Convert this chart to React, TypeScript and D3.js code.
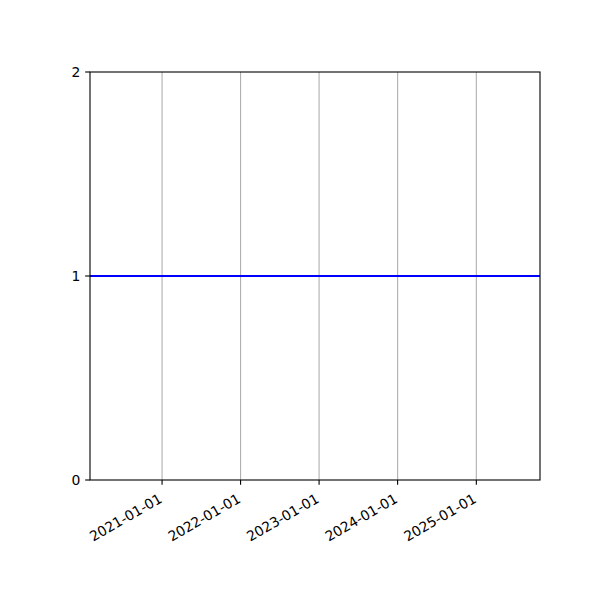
import { scaleLinear, scaleUtc, line } from 'd3';

// data
const dates = ['2020-02-01', '2025-10-24'];
const values = [1, 1];
const xTickLabels = ['2021-01-01', '2022-01-01', '2023-01-01', '2024-01-01', '2025-01-01'];
const yTicks = [0, 1, 2];

const WIDTH = 600;
const HEIGHT = 600;
const MARGIN = { top: 72, right: 60, bottom: 120, left: 90 };
const TICK = 4.86;
const FONT = 'DejaVu Sans, sans-serif';
const FONT_SIZE = 13.9;

export default function App() {
  const points = dates.map((d, i) => ({ date: new Date(d + 'T00:00:00Z'), value: values[i] }));

  const x = scaleUtc()
    .domain([points[0].date, points[points.length - 1].date])
    .range([MARGIN.left, WIDTH - MARGIN.right]);
  const y = scaleLinear()
    .domain([0, 2])
    .range([HEIGHT - MARGIN.bottom, MARGIN.top]);

  const path = line<{ date: Date; value: number }>()
    .x(d => x(d.date))
    .y(d => y(d.value))(points);

  const xTicks = xTickLabels.map(label => ({ label, xOffset: x(new Date(label + 'T00:00:00Z')) }));
  const bottom = HEIGHT - MARGIN.bottom;

  return (
    <svg
      width={WIDTH}
      height={HEIGHT}
      style={{ position: 'absolute', left: 0, top: 0, background: '#fff' }}
      fontFamily={FONT}
      fontSize={FONT_SIZE}
    >
      {/* vertical grid */}
      {xTicks.map(({ label, xOffset }) => (
        <line key={'g' + label} x1={xOffset} x2={xOffset} y1={MARGIN.top} y2={bottom} stroke="#b0b0b0" strokeWidth={1.1} />
      ))}

      {path && <path d={path} fill="none" stroke="#0000ff" strokeWidth={2.1} />}

      {/* frame */}
      <rect
        x={MARGIN.left}
        y={MARGIN.top}
        width={WIDTH - MARGIN.left - MARGIN.right}
        height={bottom - MARGIN.top}
        fill="none"
        stroke="#000"
        strokeWidth={1.1}
      />

      {/* x axis */}
      {xTicks.map(({ label, xOffset }) => (
        <g key={label}>
          <line x1={xOffset} x2={xOffset} y1={bottom} y2={bottom + TICK} stroke="#000" strokeWidth={1.1} />
          <text
            textAnchor="end"
            transform={`translate(${xOffset + 1}, ${bottom + 21.5}) rotate(-30)`}
          >
            {label}
          </text>
        </g>
      ))}

      {/* y axis */}
      {yTicks.map(v => (
        <g key={v}>
          <line x1={MARGIN.left - TICK} x2={MARGIN.left} y1={y(v)} y2={y(v)} stroke="#000" strokeWidth={1.1} />
          <text x={MARGIN.left - TICK - 4.9} y={y(v)} dy="0.36em" textAnchor="end">
            {v}
          </text>
        </g>
      ))}
    </svg>
  );
}
